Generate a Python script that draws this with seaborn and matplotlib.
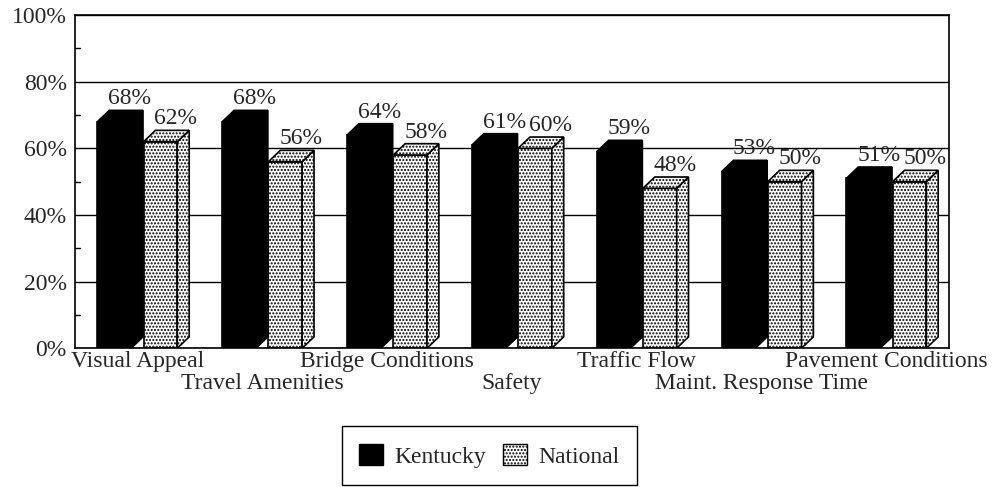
import numpy as np
import pandas as pd
import matplotlib
matplotlib.use("Agg")
import matplotlib.pyplot as plt
import seaborn as sns
from matplotlib.patches import Polygon, Patch

# data
categories = ["Visual Appeal", "Travel Amenities", "Bridge Conditions", "Safety",
              "Traffic Flow", "Maint. Response Time", "Pavement Conditions"]
kentucky = [68, 68, 64, 61, 59, 53, 51]
national = [62, 56, 58, 60, 48, 50, 50]
groups = ["Kentucky", "National"]
yticks = [0, 20, 40, 60, 80, 100]

df = pd.DataFrame({
    "category": categories * 2,
    "group": ["Kentucky"] * len(categories) + ["National"] * len(categories),
    "value": kentucky + national,
})

sns.set_style("white")
plt.rcParams["font.family"] = ["Liberation Serif", "DejaVu Serif"]
plt.rcParams["font.size"] = 17
plt.rcParams["hatch.linewidth"] = 1.0

fig = plt.figure(figsize=(9.93, 4.87), dpi=100)
ax = fig.add_axes([0.0755, 0.285, 0.88, 0.684])

sns.barplot(data=df, x="category", y="value", hue="group", order=categories,
            hue_order=groups, palette={"Kentucky": "black", "National": "white"},
            width=0.74, gap=0.27, edgecolor="black", linewidth=1.2,
            saturation=1, legend=False, ax=ax)

# fake 3D depth
dx, dy = 0.095, 3.4
hatches = {"Kentucky": None, "National": "....."}
for name, cont in zip(groups, ax.containers):
    fc = "black" if name == "Kentucky" else "white"
    for bar in cont:
        x0, w, h = bar.get_x(), bar.get_width(), bar.get_height()
        x1 = x0 + w
        if hatches[name]:
            bar.set_hatch(hatches[name])
        side = Polygon([(x1, 0), (x1 + dx, dy), (x1 + dx, h + dy), (x1, h)],
                       closed=True, facecolor=fc, edgecolor="black", lw=1.2,
                       hatch=hatches[name], zorder=bar.get_zorder())
        top = Polygon([(x0, h), (x1, h), (x1 + dx, h + dy), (x0 + dx, h + dy)],
                      closed=True, facecolor=fc, edgecolor="black", lw=1.2,
                      hatch=hatches[name], zorder=bar.get_zorder())
        ax.add_patch(side)
        ax.add_patch(top)
        ax.text(x0 + w / 2 + dx * 1.3, h + dy + 0.3, f"{int(h)}%", ha="center",
                va="bottom", fontsize=17)

ax.set_ylim(0, 100)
ax.set_yticks(yticks)
ax.set_yticklabels([f"{v}%" for v in yticks])
ax.tick_params(axis="y", which="major", length=0, pad=6)
ax.yaxis.grid(True, color="black", linewidth=1.0)
ax.set_axisbelow(True)
# small inward marks at the odd tens
for v in [10, 30, 50, 70, 90]:
    ax.plot([0, 0.006], [v, v], color="black", lw=1, transform=ax.get_yaxis_transform(),
            clip_on=False, scalex=False)

# staggered category labels: even ones as major ticks, odd ones as minor ticks
pos = np.arange(len(categories))
ax.set_xticks(pos[::2])
ax.set_xticklabels(categories[::2])
ax.set_xticks(pos[1::2], minor=True)
ax.set_xticklabels(categories[1::2], minor=True)
ax.tick_params(axis="x", which="major", length=0, pad=2)
ax.tick_params(axis="x", which="minor", length=0, pad=18)
ax.set_xlim(-0.5, len(categories) - 0.5)

ax.set_xlabel("")
ax.set_ylabel("")
for s in ax.spines.values():
    s.set_color("black")
    s.set_linewidth(1.2)

handles = [Patch(facecolor="black", edgecolor="black"),
           Patch(facecolor="white", edgecolor="black", hatch=".....")]
fig.legend(handles, groups, loc="center", bbox_to_anchor=(0.493, 0.064), ncol=2,
           frameon=True, fancybox=False, edgecolor="black", framealpha=1,
           handlelength=1.0, handleheight=1.0, handletextpad=0.5,
           columnspacing=0.7, borderpad=0.75, fontsize=17)

fig.savefig("out.png", dpi=100)
